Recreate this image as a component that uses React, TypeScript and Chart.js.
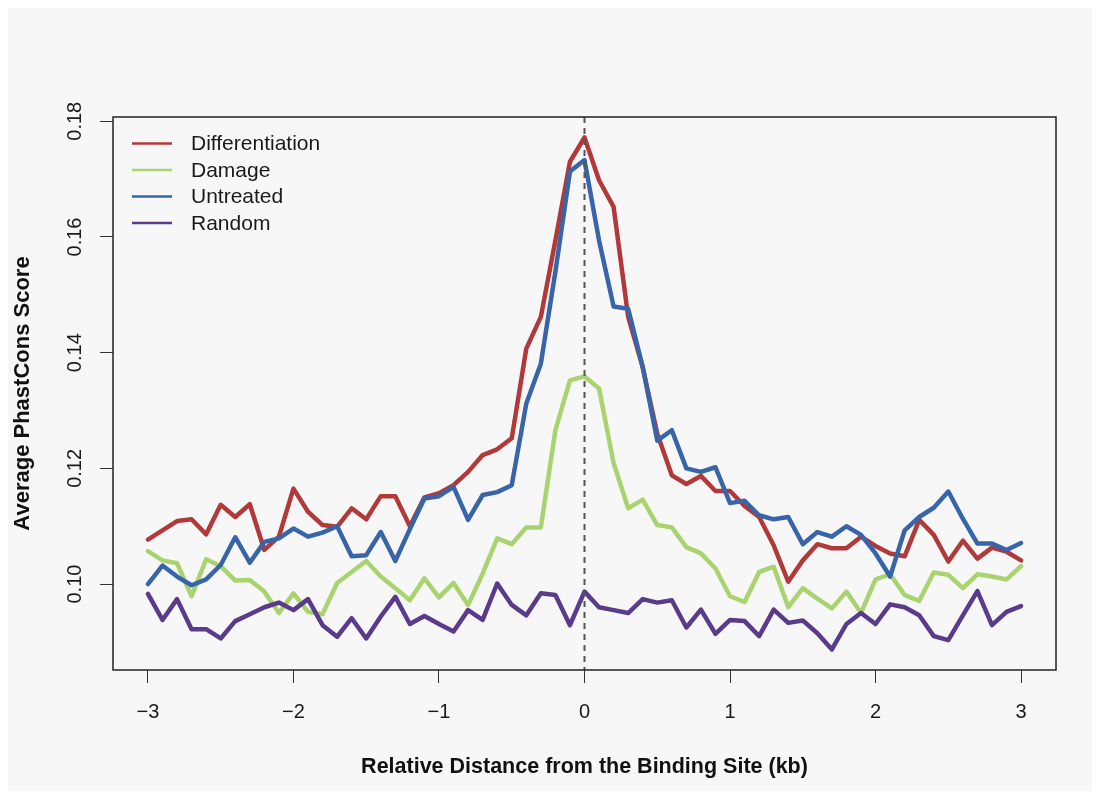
import React, { useEffect, useRef } from "react";
import { Chart, registerables } from "chart.js";

Chart.register(...registerables);

const FONT = "'Liberation Sans', Arial, Helvetica, sans-serif";

const xPositions = [
  -3.0, -2.9, -2.8, -2.7, -2.6, -2.5, -2.4, -2.3, -2.2, -2.1,
  -2.0, -1.9, -1.8, -1.7, -1.6, -1.5, -1.4, -1.3, -1.2, -1.1,
  -1.0, -0.9, -0.8, -0.7, -0.6, -0.5, -0.4, -0.3, -0.2, -0.1,
  0.0, 0.1, 0.2, 0.3, 0.4, 0.5, 0.6, 0.7, 0.8, 0.9,
  1.0, 1.1, 1.2, 1.3, 1.4, 1.5, 1.6, 1.7, 1.8, 1.9,
  2.0, 2.1, 2.2, 2.3, 2.4, 2.5, 2.6, 2.7, 2.8, 2.9,
  3.0,
];

const differentiation = [
  0.1077, 0.1093, 0.1109, 0.1112, 0.1086, 0.1137, 0.1116, 0.1138, 0.1059, 0.1082,
  0.1165, 0.1125, 0.1102, 0.1099, 0.1131, 0.1112, 0.1152, 0.1152, 0.1100, 0.1150,
  0.1157, 0.1171, 0.1194, 0.1223, 0.1233, 0.1252, 0.1407, 0.1462, 0.1594, 0.1730,
  0.1772, 0.1698, 0.1652, 0.1462, 0.1375, 0.1260, 0.1188, 0.1173, 0.1187, 0.1161,
  0.1161, 0.1135, 0.1116, 0.1067, 0.1004, 0.1041, 0.1069, 0.1062, 0.1062, 0.1082,
  0.1066, 0.1053, 0.1048, 0.1111, 0.1085, 0.1039, 0.1075, 0.1044, 0.1063, 0.1056,
  0.1041,
];

const damage = [
  0.1057, 0.1041, 0.1036, 0.0979, 0.1043, 0.1031, 0.1006, 0.1007, 0.0987, 0.0950,
  0.0984, 0.0952, 0.0948, 0.1002, 0.1021, 0.1040, 0.1013, 0.0993, 0.0972, 0.1010,
  0.0977, 0.1002, 0.0964, 0.1018, 0.1079, 0.1069, 0.1098, 0.1098, 0.1266, 0.1352,
  0.1359, 0.1338, 0.1209, 0.1131, 0.1146, 0.1102, 0.1098, 0.1064, 0.1053, 0.1027,
  0.0979, 0.0969, 0.1021, 0.1030, 0.0960, 0.0993, 0.0975, 0.0958, 0.0987, 0.0950,
  0.1008, 0.1017, 0.0981, 0.0971, 0.1020, 0.1016, 0.0993, 0.1017, 0.1013, 0.1008,
  0.1031,
];

const untreated = [
  0.1000, 0.1032, 0.1013, 0.0998, 0.1008, 0.1033, 0.1081, 0.1037, 0.1073, 0.1079,
  0.1096, 0.1082, 0.1089, 0.1100, 0.1048, 0.1050, 0.1090, 0.1040, 0.1095, 0.1148,
  0.1152, 0.1168, 0.1111, 0.1154, 0.1159, 0.1171, 0.1312, 0.1381, 0.1540, 0.1713,
  0.1733, 0.1594, 0.1480, 0.1476, 0.1375, 0.1248, 0.1266, 0.1200, 0.1194, 0.1202,
  0.1140, 0.1144, 0.1119, 0.1112, 0.1116, 0.1069, 0.1090, 0.1082, 0.1100, 0.1085,
  0.1053, 0.1013, 0.1093, 0.1116, 0.1132, 0.1160, 0.1113, 0.1070, 0.1070, 0.1059,
  0.1071,
];

const random = [
  0.0983, 0.0938, 0.0974, 0.0922, 0.0922, 0.0906, 0.0936, 0.0948, 0.0960, 0.0968,
  0.0955, 0.0974, 0.0929, 0.0909, 0.0941, 0.0906, 0.0944, 0.0978, 0.0931, 0.0945,
  0.0931, 0.0918, 0.0955, 0.0938, 0.1001, 0.0964, 0.0946, 0.0984, 0.0981, 0.0929,
  0.0987, 0.0960, 0.0955, 0.0950, 0.0974, 0.0968, 0.0972, 0.0925, 0.0956, 0.0914,
  0.0938, 0.0936, 0.0910, 0.0956, 0.0933, 0.0937, 0.0915, 0.0887, 0.0931, 0.0950,
  0.0931, 0.0965, 0.0960, 0.0946, 0.0910, 0.0903, 0.0946, 0.0988, 0.0929, 0.0952,
  0.0962,
];

const seriesNames = ["Differentiation", "Damage", "Untreated", "Random"];
const seriesValues = [differentiation, damage, untreated, random];
const seriesColors = ["#b1393a", "#a8d36e", "#3864a9", "#5a3b8b"];

const xTickValues = [-3, -2, -1, 0, 1, 2, 3];
const xTickLabels = ["\u22123", "\u22122", "\u22121", "0", "1", "2", "3"];
const yTickValues = [0.1, 0.12, 0.14, 0.16, 0.18];
const yTickLabels = ["0.10", "0.12", "0.14", "0.16", "0.18"];

const xTitle = "Relative Distance from the Binding Site (kb)";
const yTitle = "Average PhastCons Score";

const decorPlugin = {
  id: "decor",
  beforeDraw(chart: any) {
    const ctx = chart.ctx;
    ctx.save();
    ctx.fillStyle = "#f7f7f7";
    ctx.fillRect(0, 0, chart.width, chart.height);
    ctx.restore();
  },
  afterDatasetsDraw(chart: any) {
    const ctx = chart.ctx;
    const area = chart.chartArea;
    const x0 = chart.scales.x.getPixelForValue(0);
    ctx.save();
    ctx.strokeStyle = "#555555";
    ctx.lineWidth = 2;
    ctx.setLineDash([6, 5]);
    ctx.beginPath();
    ctx.moveTo(x0, area.top);
    ctx.lineTo(x0, area.bottom);
    ctx.stroke();
    ctx.restore();
  },
  afterDraw(chart: any) {
    const ctx = chart.ctx;
    const area = chart.chartArea;
    ctx.save();
    ctx.strokeStyle = "#222222";
    ctx.lineWidth = 1.5;
    ctx.strokeRect(area.left, area.top, area.right - area.left, area.bottom - area.top);

    // legend
    const lx = area.left + 19;
    const ty = area.top + 26.5;
    ctx.font = `21px ${FONT}`;
    ctx.textBaseline = "middle";
    ctx.textAlign = "left";
    chart.data.datasets.forEach((ds: any, i: number) => {
      const y = ty + i * 26.5;
      ctx.strokeStyle = ds.borderColor;
      ctx.lineWidth = 2.5;
      ctx.beginPath();
      ctx.moveTo(lx, y);
      ctx.lineTo(lx + 40, y);
      ctx.stroke();
      ctx.fillStyle = "#1a1a1a";
      ctx.fillText(ds.label, lx + 59, y + 1);
    });
    ctx.restore();
  },
};

export default function App() {
  const canvasRef = useRef<HTMLCanvasElement | null>(null);

  useEffect(() => {
    const canvas = canvasRef.current;
    if (!canvas) return;
    const datasets = seriesNames.map((name, i) => ({
      label: name,
      data: xPositions.map((x, j) => ({ x, y: seriesValues[i][j] })),
      borderColor: seriesColors[i],
      backgroundColor: seriesColors[i],
      borderWidth: 4.5,
      pointRadius: 0,
      tension: 0,
      fill: false,
      borderCapStyle: "round",
      borderJoinStyle: "round",
      order: seriesNames.length - i,
    }));

    const chart = new Chart(canvas, {
      type: "line",
      data: { datasets } as any,
      plugins: [decorPlugin],
      options: {
        animation: false,
        responsive: false,
        devicePixelRatio: 1,
        layout: { padding: { left: 0, right: 36, top: 109, bottom: 0 } },
        plugins: {
          legend: { display: false },
          tooltip: { enabled: false },
        },
        scales: {
          x: {
            type: "linear",
            min: -3.24,
            max: 3.24,
            afterBuildTicks: (scale: any) => {
              scale.ticks = xTickValues.map((v) => ({ value: v }));
            },
            afterFit: (scale: any) => {
              scale.height = 121;
            },
            grid: {
              drawOnChartArea: false,
              drawTicks: true,
              tickLength: 13,
              color: "#333333",
              lineWidth: 1,
            },
            border: { display: false },
            ticks: {
              padding: 17,
              color: "#1a1a1a",
              font: { size: 20, family: FONT },
              maxRotation: 0,
              autoSkip: false,
              callback: (value: any) => {
                const idx = xTickValues.indexOf(Number(value));
                return idx >= 0 ? xTickLabels[idx] : "";
              },
            },
            title: {
              display: true,
              text: xTitle,
              color: "#111111",
              font: { size: 21.5, weight: "bold", family: FONT },
              padding: { top: 0, bottom: 11 },
            },
          },
          y: {
            type: "linear",
            min: 0.08515,
            max: 0.18074,
            afterBuildTicks: (scale: any) => {
              scale.ticks = yTickValues.map((v) => ({ value: v }));
            },
            afterFit: (scale: any) => {
              scale.width = 105;
            },
            grid: {
              drawOnChartArea: false,
              drawTicks: true,
              tickLength: 13,
              color: "#333333",
              lineWidth: 1,
            },
            border: { display: false },
            ticks: {
              padding: 5.5,
              color: "#1a1a1a",
              font: { size: 20, family: FONT },
              minRotation: 90,
              maxRotation: 90,
              crossAlign: "center",
              autoSkip: false,
              callback: (value: any) => {
                const idx = yTickValues.findIndex((v) => Math.abs(v - Number(value)) < 1e-9);
                return idx >= 0 ? yTickLabels[idx] : "";
              },
            },
            title: {
              display: true,
              text: yTitle,
              color: "#111111",
              font: { size: 22, weight: "bold", family: FONT },
              padding: { top: 1.8, bottom: 0 },
            },
          },
        },
      } as any,
    });

    return () => {
      chart.destroy();
    };
  }, []);

  return (
    <div style={{ width: 1084, height: 783 }}>
      <canvas ref={canvasRef} width={1084} height={783} style={{ display: "block" }} />
    </div>
  );
}
